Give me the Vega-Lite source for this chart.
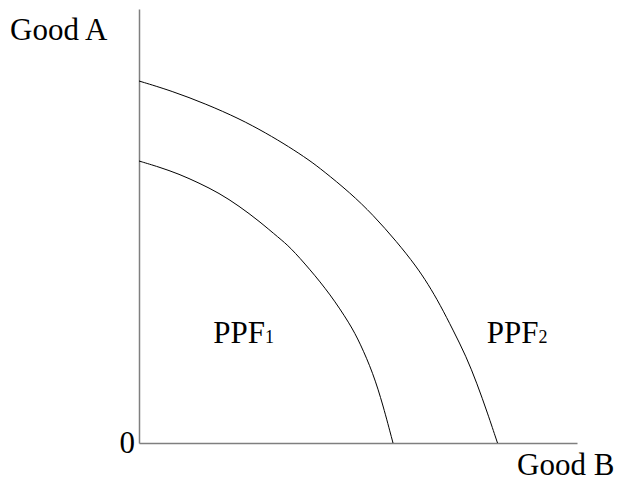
{
  "$schema": "https://vega.github.io/schema/vega-lite/v6.json",
  "width": 438,
  "height": 434,
  "autosize": {"type": "none"},
  "padding": {"left": 139, "top": 9, "right": 42, "bottom": 37},
  "background": "white",
  "config": {"view": {"stroke": null}, "font": "Liberation Serif"},
  "datasets": {
    "curves": [
      {"curve": "PPF1", "b": 0, "a": 282},
      {"curve": "PPF1", "b": 20, "a": 276},
      {"curve": "PPF1", "b": 40, "a": 269},
      {"curve": "PPF1", "b": 60, "a": 260},
      {"curve": "PPF1", "b": 80, "a": 250},
      {"curve": "PPF1", "b": 100, "a": 237},
      {"curve": "PPF1", "b": 120, "a": 222},
      {"curve": "PPF1", "b": 140, "a": 205},
      {"curve": "PPF1", "b": 151, "a": 196},
      {"curve": "PPF1", "b": 171, "a": 173.5},
      {"curve": "PPF1", "b": 191, "a": 149},
      {"curve": "PPF1", "b": 211, "a": 119},
      {"curve": "PPF1", "b": 221, "a": 100},
      {"curve": "PPF1", "b": 234, "a": 70},
      {"curve": "PPF1", "b": 244, "a": 38},
      {"curve": "PPF1", "b": 254, "a": 0},
      {"curve": "PPF2", "b": 0, "a": 362},
      {"curve": "PPF2", "b": 33, "a": 352},
      {"curve": "PPF2", "b": 67, "a": 339},
      {"curve": "PPF2", "b": 100, "a": 324.5},
      {"curve": "PPF2", "b": 127, "a": 310},
      {"curve": "PPF2", "b": 150, "a": 296.2},
      {"curve": "PPF2", "b": 170, "a": 283},
      {"curve": "PPF2", "b": 184, "a": 272.4},
      {"curve": "PPF2", "b": 211, "a": 250.3},
      {"curve": "PPF2", "b": 234, "a": 228.2},
      {"curve": "PPF2", "b": 258, "a": 201},
      {"curve": "PPF2", "b": 277, "a": 177},
      {"curve": "PPF2", "b": 289, "a": 159},
      {"curve": "PPF2", "b": 301, "a": 138.5},
      {"curve": "PPF2", "b": 314, "a": 113},
      {"curve": "PPF2", "b": 327, "a": 87},
      {"curve": "PPF2", "b": 338, "a": 59.5},
      {"curve": "PPF2", "b": 348.5, "a": 30},
      {"curve": "PPF2", "b": 358.5, "a": 0}
    ],
    "labels": [
      {"text": "Good A", "b": -129, "a": 403},
      {"text": "Good B", "b": 378, "a": -31.5},
      {"text": "0", "b": -19.5, "a": -10},
      {"text": "PPF", "b": 74.3, "a": 100.3},
      {"text": "PPF", "b": 347.7, "a": 100.3}
    ],
    "subs": [
      {"text": "1", "b": 126, "a": 99.7},
      {"text": "2", "b": 399.4, "a": 99.7}
    ]
  },
  "layer": [
    {
      "data": {"name": "curves"},
      "mark": {"type": "line", "color": "black", "strokeWidth": 1, "interpolate": "basis", "clip": false},
      "encoding": {
        "x": {"field": "b", "type": "quantitative", "scale": {"domain": [0, 438], "nice": false, "zero": false},
              "axis": {"domain": true, "domainColor": "#7f7f7f", "domainWidth": 1.5, "ticks": false, "labels": false, "grid": false, "title": null}},
        "y": {"field": "a", "type": "quantitative", "scale": {"domain": [0, 434], "nice": false, "zero": false},
              "axis": {"domain": true, "domainColor": "#7f7f7f", "domainWidth": 1.5, "ticks": false, "labels": false, "grid": false, "title": null}},
        "detail": {"field": "curve"},
        "order": {"field": "b", "type": "quantitative"}
      }
    },
    {
      "data": {"name": "labels"},
      "mark": {"type": "text", "fontSize": 31, "align": "left", "baseline": "alphabetic", "color": "black", "font": "Liberation Serif"},
      "encoding": {
        "x": {"field": "b", "type": "quantitative"},
        "y": {"field": "a", "type": "quantitative"},
        "text": {"field": "text"}
      }
    },
    {
      "data": {"name": "subs"},
      "mark": {"type": "text", "fontSize": 18, "align": "left", "baseline": "alphabetic", "color": "black", "font": "Liberation Serif"},
      "encoding": {
        "x": {"field": "b", "type": "quantitative"},
        "y": {"field": "a", "type": "quantitative"},
        "text": {"field": "text"}
      }
    }
  ]
}
